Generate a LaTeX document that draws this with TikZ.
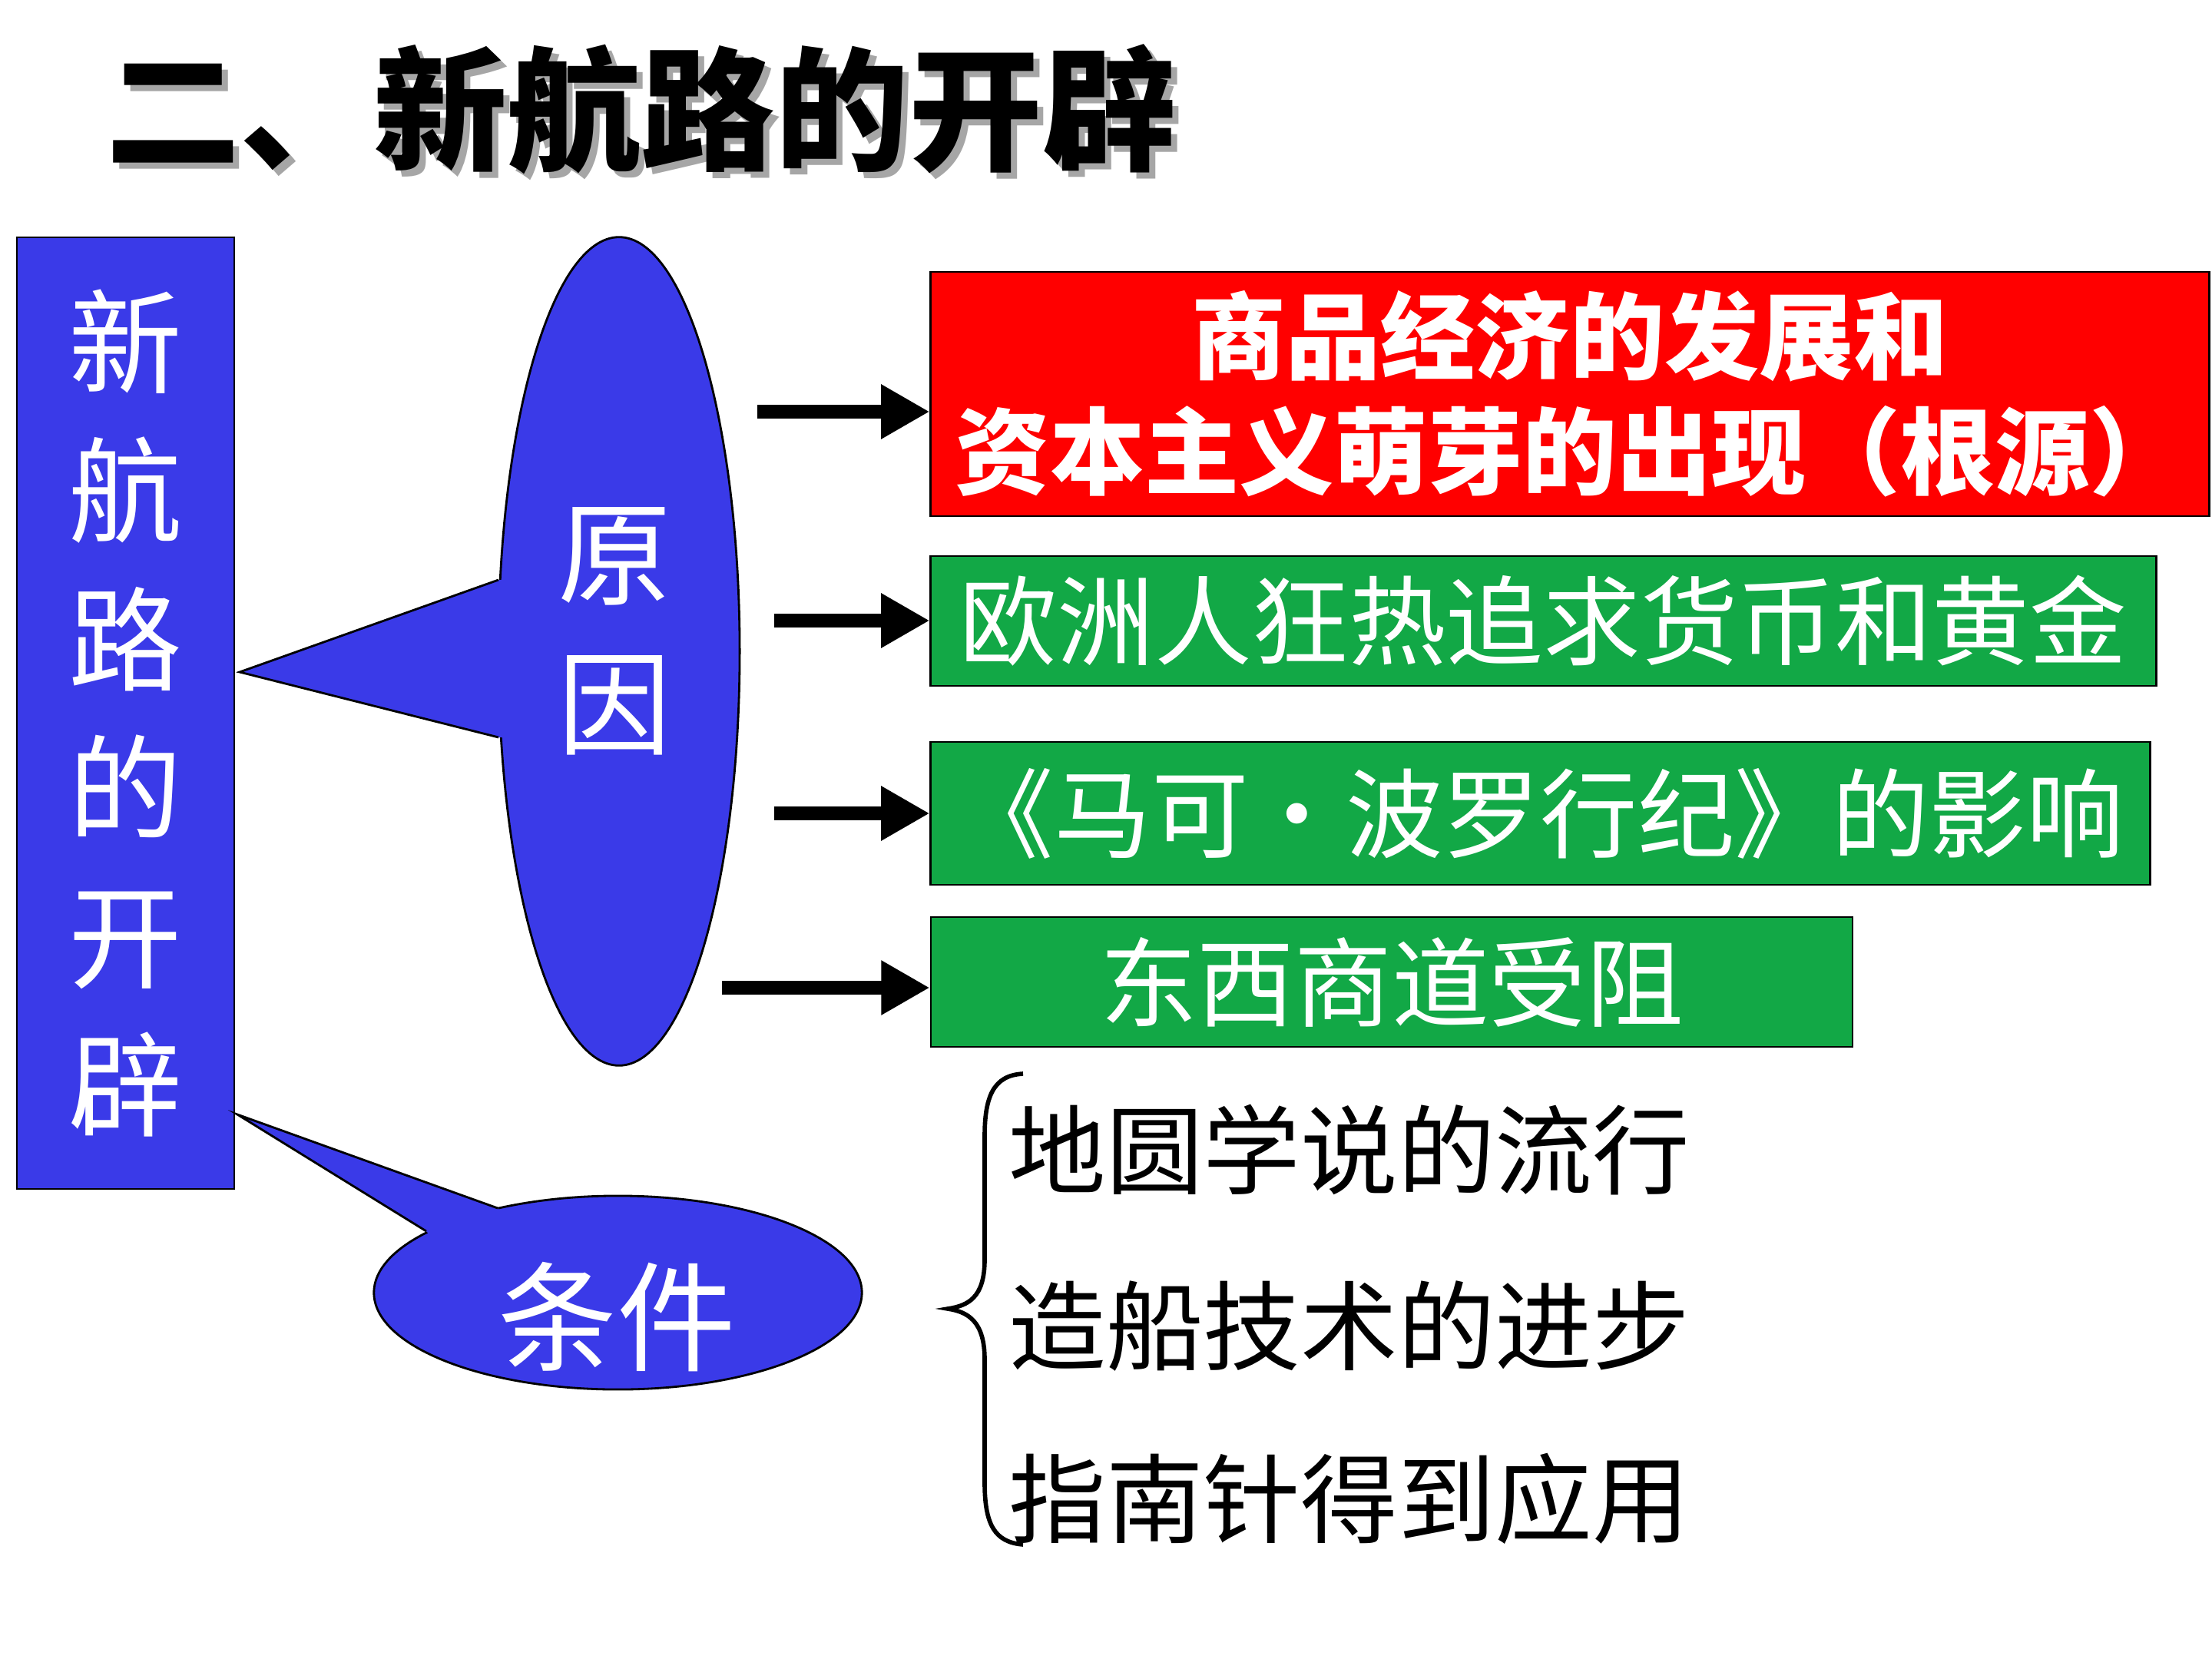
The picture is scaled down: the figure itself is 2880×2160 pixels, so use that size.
\documentclass[tikz,border=0pt]{standalone}
\usepackage{fontspec}
\setmainfont{Noto Sans CJK SC}
\usepackage{tikz}
\usetikzlibrary{positioning, arrows.meta, shapes.geometric}
\definecolor{pptblue}{RGB}{58,58,232}
\definecolor{pptgreen}{RGB}{18,168,70}

\begin{document}
\begin{tikzpicture}[x=0.01cm, y=-0.01cm, >={Triangle[length=18pt, width=19pt]},
    box/.style={draw=black, line width=0.6pt, inner sep=0pt, text=white},
    txt/.style={font=\fontsize{36pt}{43pt}\selectfont, inner sep=0pt},
    arr/.style={->, line width=5pt},
    bubble/.style={ellipse, fill=pptblue, draw=black, line width=0.8pt, inner sep=0pt},
    headfont/.style={font=\fontsize{49.5pt}{50pt}\selectfont\bfseries, inner sep=0pt, anchor=west}]
  \useasboundingbox (0,0) rectangle (2880,2160);

  % title
  \node[headfont, text=black!35] (titleshade) at (146,150) {二、新航路的开辟};
  \node[headfont] (title) at (138,142) {二、新航路的开辟};

  \node[box, fill=pptblue, minimum width=2.83cm, minimum height=12.39cm, align=center,
    font=\fontsize{42pt}{55pt}\selectfont] (topic) at (163.5,928.5) {新\\航\\路\\的\\开\\辟};

  % bubbles with tails
  \coordinate (tipA) at (312,875);
  \coordinate (tipB) at (309,1451);
  \fill[pptblue] (tipA) -- (649,755) -- (649,960) -- cycle;
  \fill[pptblue] (tipB) -- (648,1573) -- (555,1603) -- cycle;
  \node[bubble, minimum width=3.14cm, minimum height=10.78cm] (cause) at (806,848) {};
  \node[bubble, minimum width=6.35cm, minimum height=2.52cm] (cond) at (804.5,1683) {};
  \fill[pptblue] (tipA) -- (649,755) -- (668,755) -- (668,960) -- (649,960) -- cycle;
  \fill[pptblue] (tipB) -- (648,1573) -- (660,1590) -- (568,1618) -- (555,1603) -- cycle;
  \draw[line width=0.8pt] (649,755) -- (tipA) -- (649,960);
  \draw[line width=0.8pt] (648,1573) -- (tipB) -- (555,1603);
  \node[font=\fontsize{42pt}{55.5pt}\selectfont, text=white, align=center, inner sep=0pt]
    (causetxt) at (800,822) {原\\因};
  \node[font=\fontsize{44pt}{44pt}\selectfont, text=white, inner sep=0pt] (condtxt) at (803,1715) {条件};

  % causes
  \node[box, fill=red, minimum width=16.64cm, minimum height=3.18cm, align=center,
    font=\fontsize{35pt}{42.7pt}\selectfont\bfseries] (r1) at (2044,513)
    {商品经济的发展和\\资本主义萌芽的出现（根源）};
  \node[box, txt, fill=pptgreen, minimum width=15.95cm, minimum height=1.69cm] (r2) at (2009.5,808.5)
    {欧洲人狂热追求货币和黄金};
  \node[box, txt, fill=pptgreen, minimum width=15.87cm, minimum height=1.86cm] (r3) at (2005.5,1059)
    {《马可・波罗行纪》的影响};
  \node[box, txt, fill=pptgreen, minimum width=12.00cm, minimum height=1.69cm] (r4) at (1812,1278.5)
    {东西商道受阻};

  \coordinate (a1) at (986,536);
  \coordinate (a2) at (1008,808);
  \coordinate (a3) at (1008,1059);
  \coordinate (a4) at (940,1286);
  \foreach \i in {1,...,4}
    \draw[arr] (a\i) -- (a\i -| r\i.west);

  % conditions
  \draw[line width=1.6pt] (1332,1398) .. controls (1292,1400) and (1282,1430) .. (1282,1480)
    -- (1282,1640) .. controls (1282,1690) and (1260,1700) .. (1234,1704)
    .. controls (1260,1708) and (1282,1720) .. (1282,1770)
    -- (1282,1930) .. controls (1282,1985) and (1295,2008) .. (1332,2011);
  \node[txt, anchor=west] (k1) at (1313,1497) {地圆学说的流行};
  \node[txt, anchor=west] (k2) at (1313,1727) {造船技术的进步};
  \node[txt, anchor=west] (k3) at (1313,1951) {指南针得到应用};
\end{tikzpicture}
\end{document}
